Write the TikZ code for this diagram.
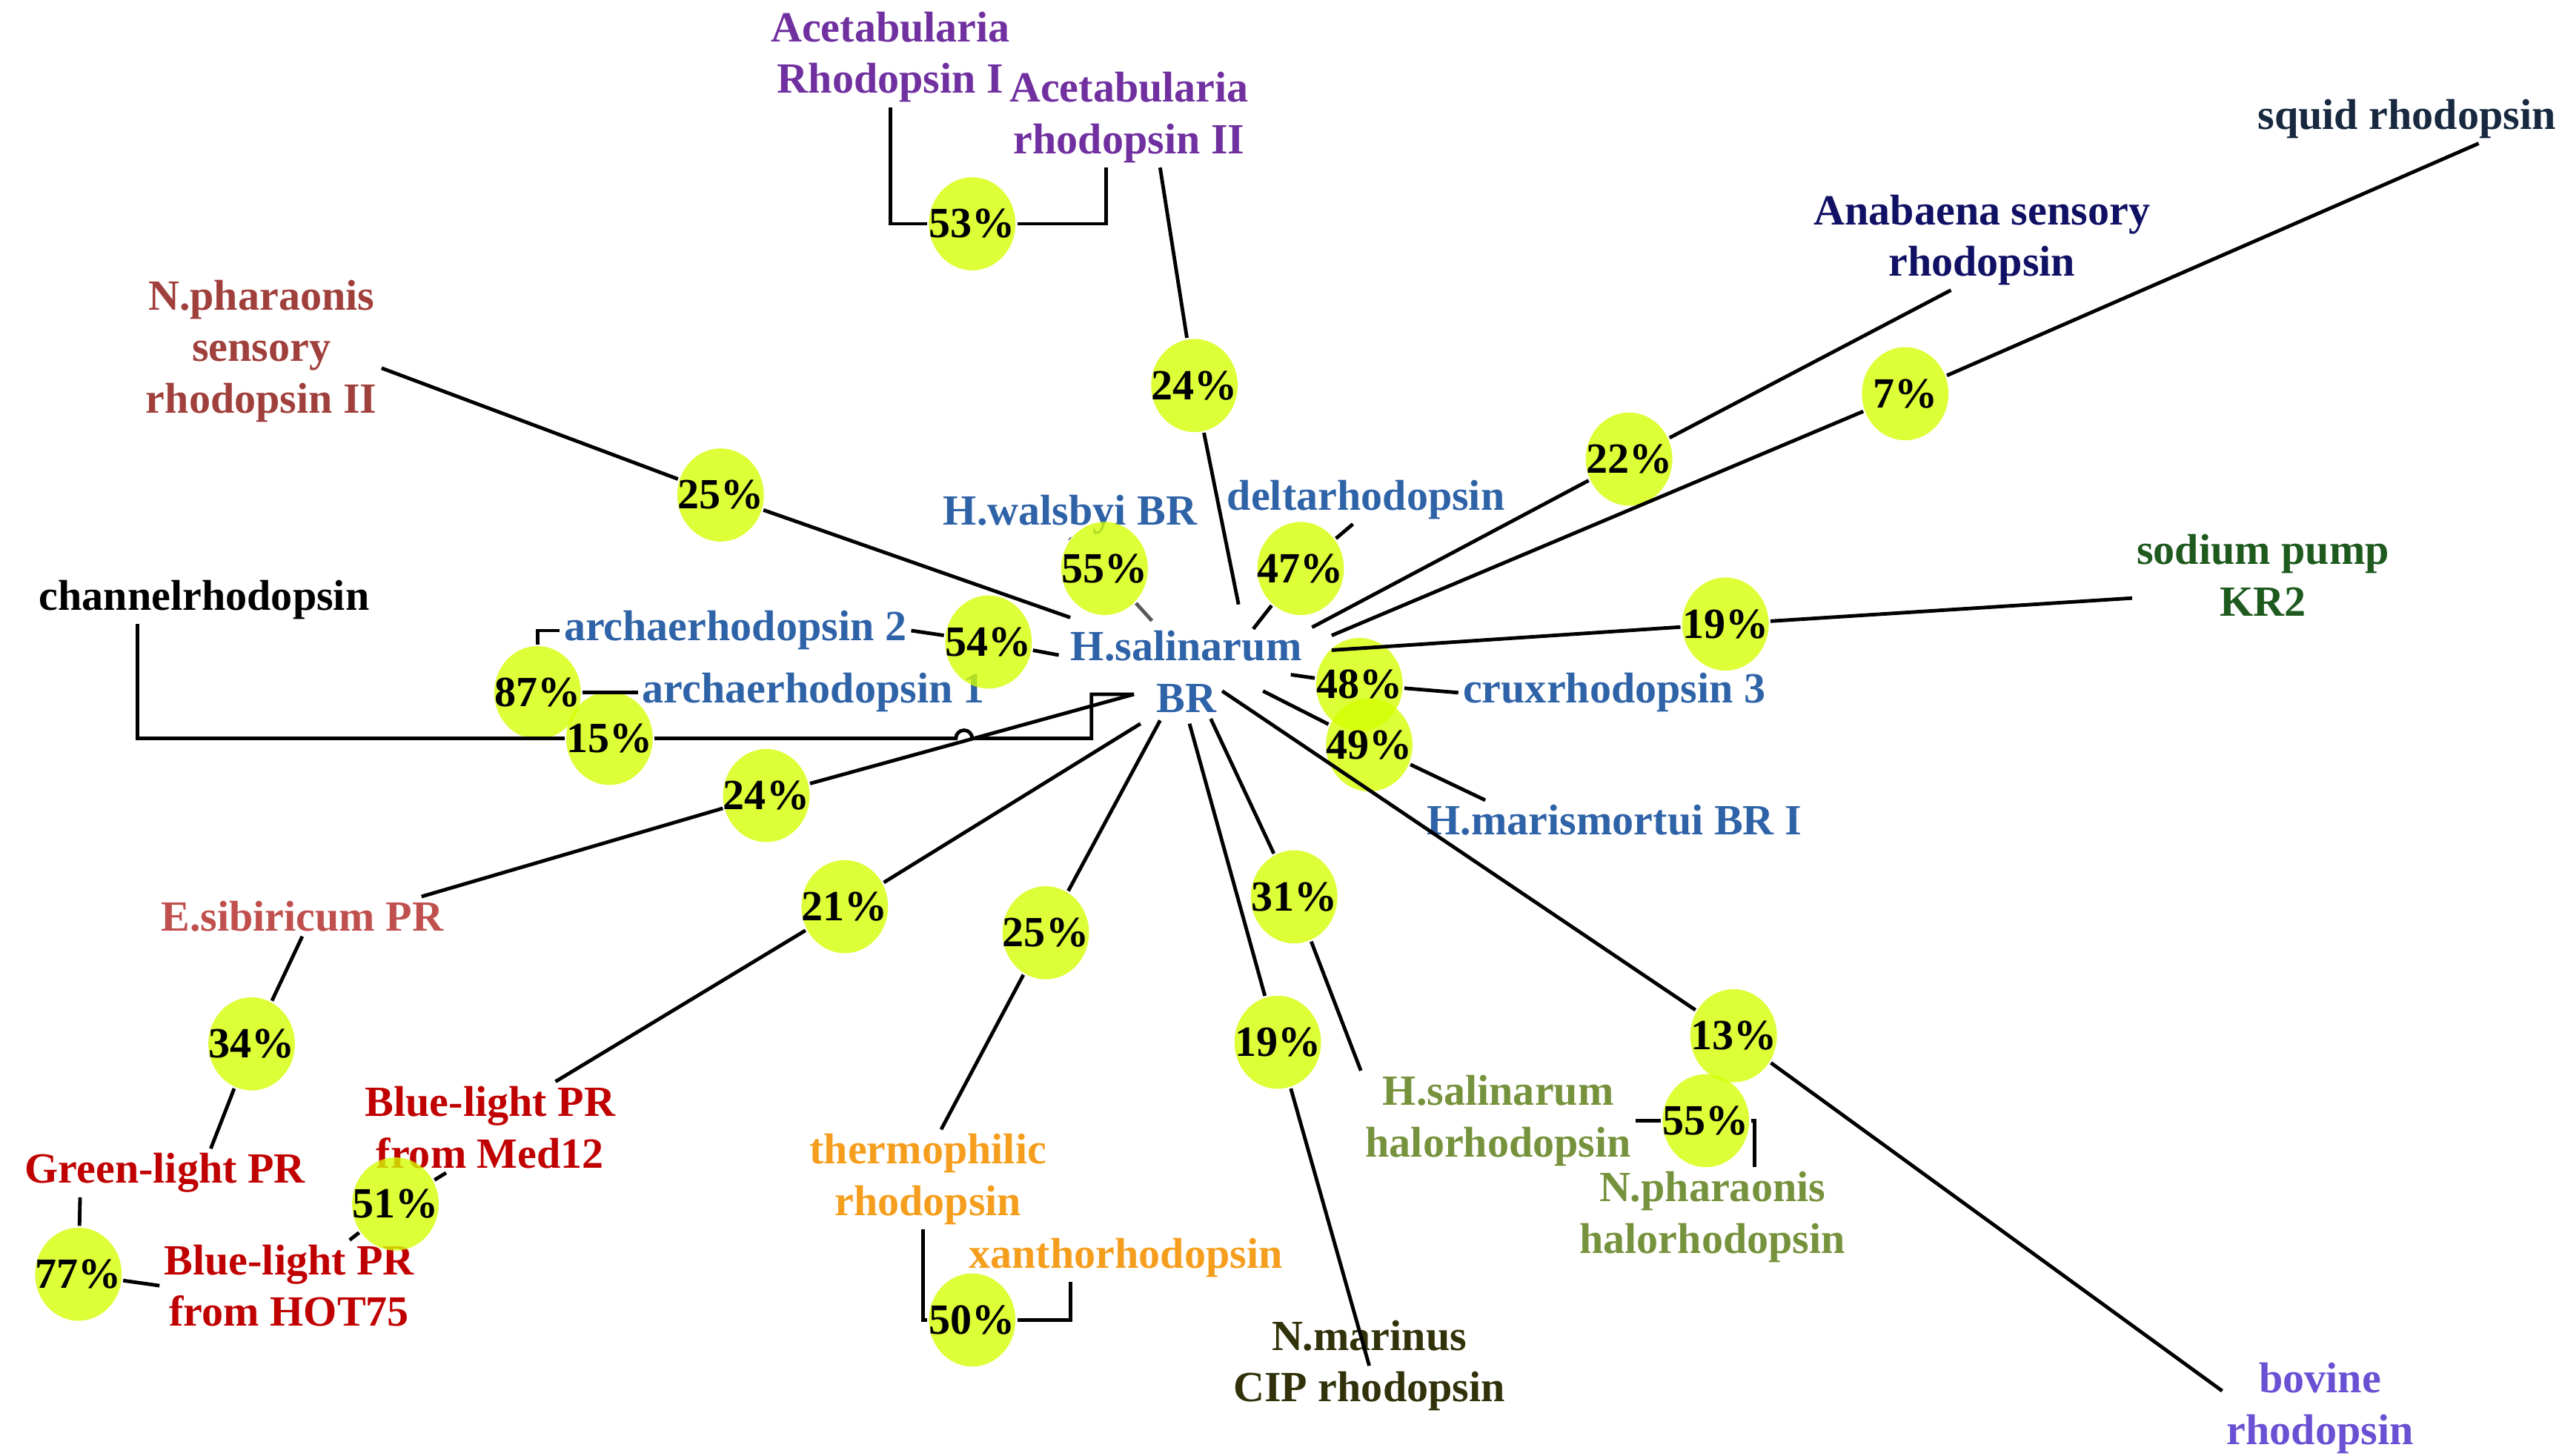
\documentclass[tikz,border=0pt]{standalone}
\usepackage{fontspec}
\setmainfont{Liberation Serif}
\usetikzlibrary{shapes.geometric}
\definecolor{acetab}{RGB}{112,48,160}
\definecolor{squid}{RGB}{23,40,63}
\definecolor{anab}{RGB}{16,16,100}
\definecolor{brick}{RGB}{160,64,60}
\definecolor{brblue}{RGB}{47,99,168}
\definecolor{kgreen}{RGB}{30,90,30}
\definecolor{esalmon}{RGB}{192,80,77}
\definecolor{prred}{RGB}{192,0,0}
\definecolor{thorange}{RGB}{245,158,30}
\definecolor{nmolive}{RGB}{50,50,10}
\definecolor{halo}{RGB}{118,146,60}
\definecolor{bovine}{RGB}{106,80,210}
\definecolor{pctfill}{RGB}{212,255,0}
\begin{document}
\begin{tikzpicture}[x=0.02cm,y=-0.02cm,line width=1.25pt,
  lbl/.style={font=\bfseries\fontsize{15}{18}\selectfont,align=center,inner sep=1pt},
  pct/.style={ellipse,fill=pctfill,fill opacity=0.78,text opacity=1,minimum width=1.06cm,minimum height=1.14cm,inner xsep=-0.17cm,inner ysep=0pt,font=\bfseries\fontsize{15}{18}\selectfont}]
\useasboundingbox (0,0) rectangle (1568,891);
\node[lbl,text=acetab] (ac1) at (545,35) {Acetabularia\\Rhodopsin I};
\node[lbl,text=acetab] (ac2) at (691,72) {Acetabularia\\rhodopsin II};
\node[lbl,text=squid] (sqd) at (1473,73) {squid rhodopsin};
\node[lbl,text=anab] (ana) at (1213,147) {Anabaena sensory\\rhodopsin};
\node[lbl,text=brick] (nps) at (160,215) {N.pharaonis\\sensory\\rhodopsin II};
\node[lbl,text=brblue] (del) at (836,306) {deltarhodopsin};
\node[lbl,text=brblue] (hwb) at (655,315) {H.walsbyi BR};
\node[lbl,text=kgreen] (kr2) at (1385,352) {sodium pump\\KR2};
\node[lbl] (chr) at (125,367) {channelrhodopsin};
\node[lbl,text=brblue] (ar2) at (450,386) {archaerhodopsin 2};
\node[lbl,text=brblue] (hs) at (726,411) {H.salinarum\\BR};
\node[lbl,text=brblue] (ar1) at (498,424) {archaerhodopsin 1};
\node[lbl,text=brblue] (crx) at (988,424) {cruxrhodopsin 3};
\node[lbl,text=brblue] (hmr) at (988,502) {H.marismortui BR I};
\node[lbl,text=esalmon] (esb) at (185,561) {E.sibiricum PR};
\node[lbl,text=prred] (bmd) at (300,690) {Blue-light PR\\from Med12};
\node[lbl,text=prred] (grn) at (101,718) {Green-light PR};
\node[lbl,text=prred] (bht) at (177,787) {Blue-light PR\\from HOT75};
\node[lbl,text=thorange] (thr) at (568,722) {thermophilic\\rhodopsin};
\node[lbl,text=thorange] (xan) at (689,770) {xanthorhodopsin};
\node[lbl,text=nmolive] (nmr) at (838,836) {N.marinus\\CIP rhodopsin};
\node[lbl,text=halo] (hhr) at (917,686) {H.salinarum\\halorhodopsin};
\node[lbl,text=halo] (nhr) at (1048,745) {N.pharaonis\\halorhodopsin};
\node[lbl,text=bovine] (bov) at (1420,862) {bovine\\rhodopsin};
\node[pct] (e53) at (595,137) {53\%};
\node[pct] (e24a) at (731,236) {24\%};
\node[pct] (e25a) at (441,303) {25\%};
\node[pct] (e22) at (997,281) {22\%};
\node[pct] (e7) at (1166,241) {7\%};
\node[pct] (e55a) at (676,348) {55\%};
\node[pct] (e47) at (796,348) {47\%};
\node[pct] (e54) at (605,393) {54\%};
\node[pct] (e19a) at (1056,382) {19\%};
\node[pct] (e87) at (329,424) {87\%};
\node[pct] (e48) at (832,419) {48\%};
\node[pct] (e15) at (373,452) {15\%};
\node[pct] (e49) at (838,456) {49\%};
\node[pct] (e24b) at (469,487) {24\%};
\node[pct] (e21) at (517,555) {21\%};
\node[pct] (e25b) at (640,571) {25\%};
\node[pct] (e31) at (792,549) {31\%};
\node[pct] (e34) at (154,639) {34\%};
\node[pct] (e19b) at (782,638) {19\%};
\node[pct] (e13) at (1061,634) {13\%};
\node[pct] (e55b) at (1044,686) {55\%};
\node[pct] (e51) at (242,737) {51\%};
\node[pct] (e77) at (48,780) {77\%};
\node[pct] (e50) at (595,808) {50\%};
\coordinate (hAc) at (758,370);
\coordinate (hWb) at (705,380);
\coordinate (hDl) at (767,385);
\coordinate (hAn) at (803,384);
\coordinate (hSq) at (815,389);
\coordinate (hKr) at (815,398);
\coordinate (hNp) at (655,378);
\coordinate (hAr) at (648,401);
\coordinate (hCx) at (790,413);
\coordinate (hMr) at (773,423);
\coordinate (hBv) at (748,423);
\coordinate (hHh) at (741,440);
\coordinate (hNm) at (728,443);
\coordinate (hTh) at (710,441);
\coordinate (hMd) at (698,443);
\coordinate (brL) at (694,425);
\coordinate (hop) at (590,452);
\draw (ac1.south) |- (e53);
\draw (e53) -| ([xshift=-0.28cm]ac2.south);
\draw ([xshift=0.38cm]ac2.south) -- (e24a) -- (hAc);
\draw ([xshift=0.88cm]sqd.south) -- (e7) -- (hSq);
\draw ([xshift=-0.38cm]ana.south) -- (e22) -- (hAn);
\draw (nps.-8) -- (e25a) -- (hNp);
\draw[black!65] (hwb.south) -- (e55a) -- (hWb);
\draw ([xshift=-0.16cm]del.south) -- (e47) -- (hDl);
\draw (kr2.190) -- (e19a) -- (hKr);
\draw (ar2.east) -- (e54) -- (hAr);
\draw (ar2.west) -| (e87);
\draw (e87) -- (ar1.west);
\draw ([xshift=-0.82cm]chr.south) |- (e15);
\draw (e15) -- ([xshift=-0.1cm]hop) arc[start angle=180,end angle=0,radius=0.1cm] -| ([xshift=-0.52cm]brL) -- (brL);
\draw ([xshift=1.46cm]esb.north) -- (e24b) -- (brL);
\draw (hCx) -- (e48) -- (crx.west);
\draw (hMr) -- (e49) -- ([xshift=-1.58cm]hmr.north);
\draw (hBv) -- (e13) -- (bov.170);
\draw (hHh) -- (e31) -- (hhr.north west);
\draw (hNm) -- (e19b) -- (nmr.center);
\draw (hTh) -- (e25b) -- ([xshift=0.16cm]thr.north);
\draw (hMd) -- (e21) -- ([xshift=0.8cm]bmd.north);
\draw ([xshift=-0.54cm]bmd.south) -- (e51) -- ([xshift=0.74cm]bht.north);
\draw (esb.south) -- (e34) -- ([xshift=0.56cm]grn.north);
\draw ([xshift=-1.04cm]grn.south) -- (e77);
\draw (e77) -- (bht.west);
\draw ([xshift=-0.06cm]thr.south) |- (e50);
\draw (e50) -| ([xshift=-0.68cm]xan.south);
\draw (hhr.east) -- (e55b);
\draw (e55b) -| ([xshift=0.52cm]nhr.north);
\end{tikzpicture}
\end{document}
